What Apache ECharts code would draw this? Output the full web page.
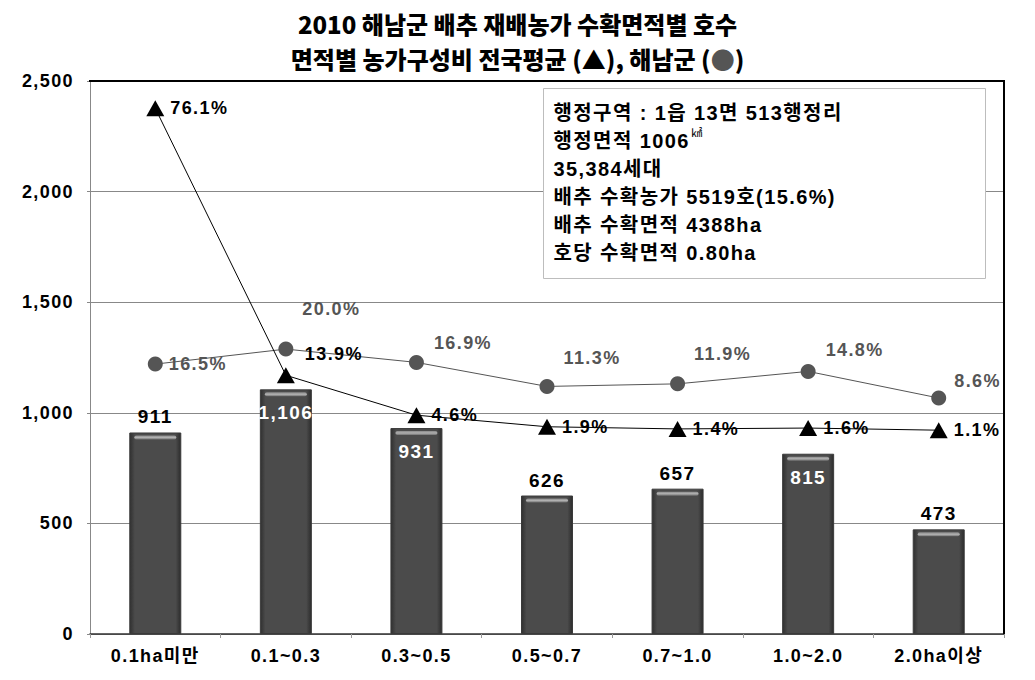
<!DOCTYPE html>
<html>
<head>
<meta charset="utf-8">
<script src="https://cdn.jsdelivr.net/npm/echarts@6/dist/echarts.min.js"></script>
<style>
html,body{margin:0;padding:0;background:#fff}
#c{width:1035px;height:680px}
#c text[style*="sans-serif"]{letter-spacing:1.4px}
</style>
</head>
<body>
<div id="c"></div>
<script>
// ---- data ----
const categories = ['0.1ha미만', '0.1~0.3', '0.3~0.5', '0.5~0.7', '0.7~1.0', '1.0~2.0', '2.0ha이상'];
const households = [911, 1106, 931, 626, 657, 815, 473];
const nationalPct = [76.1, 13.9, 4.6, 1.9, 1.4, 1.6, 1.1];
const haenamPct = [16.5, 20.0, 16.9, 11.3, 11.9, 14.8, 8.6];
const titleLines = ['2010 해남군 배추 재배농가 수확면적별 호수', '면적별 농가구성비 전국평균 (▲), 해남군 ({g|●})'];
const annotationLines = ['행정구역 : 1읍 13면 513행정리', '행정면적 1006{s|㎢}', '35,384세대', '배추 수확농가 5519호(15.6%)', '배추 수확면적 4388ha', '호당 수확면적 0.80ha'];

// ---- styling ----
const FONT = "'Liberation Sans', 'Noto Sans CJK KR', sans-serif";   // letter-spaced via CSS
const TITLE_FONT = "'Noto Sans CJK KR'";                             // not letter-spaced
const insideIdx = [1, 2, 5];
const circleOffsets = [[0, 0], [3, -40], [4, -19], [3, -28], [3, -30], [4, -21], [2, -17]];
const triOffsets = [[0, 0], [4, -21], [0, 0], [0, 0], [0, 0], [0, 0], [0, 0]];
const BAR_W = 52;

const barData = households.map((v, i) => {
  const inside = insideIdx.indexOf(i) >= 0;
  return {
    value: v,
    label: inside ? { position: 'insideTop', distance: 14, color: '#fff' } : { position: 'top', distance: 6, color: '#000' }
  };
});
const triData = nationalPct.map((v, i) => ({ value: v, label: { offset: triOffsets[i] } }));
const cirData = haenamPct.map((v, i) => ({ value: v, label: { offset: circleOffsets[i] } }));

const titleStyle = {
  fontFamily: TITLE_FONT, fontWeight: 900, fontSize: 24, lineHeight: 30, color: '#000',
  rich: { g: { color: '#555', fontFamily: TITLE_FONT, fontWeight: 900, fontSize: 24, lineHeight: 30 } }
};

const chart = echarts.init(document.getElementById('c'), null, { renderer: 'svg' });
chart.setOption({
  animation: false,
  backgroundColor: '#fff',
  title: [
    { text: titleLines[0], left: 'center', top: 8, padding: 0, textStyle: titleStyle },
    { text: titleLines[1], left: 'center', top: 43, padding: 0, textStyle: titleStyle }
  ],
  grid: { left: 90, right: 31, top: 81, bottom: 46 },
  xAxis: {
    type: 'category', data: categories,
    axisLine: { lineStyle: { color: '#333', width: 1.5 } },
    axisTick: { show: true, length: 4, lineStyle: { color: '#999' } },
    axisLabel: { fontFamily: FONT, fontWeight: 'bold', fontSize: 18, color: '#000', margin: 13, interval: 0 }
  },
  yAxis: [{
    type: 'value', min: 0, max: 2500, interval: 500,
    axisLine: { show: true, lineStyle: { color: '#888', width: 1 } },
    axisTick: { show: true, length: 3, lineStyle: { color: '#888' } },
    splitLine: { lineStyle: { color: '#888', width: 1 } },
    axisLabel: { fontFamily: FONT, fontWeight: 'bold', fontSize: 18, color: '#000', margin: 16,
      formatter: v => v.toLocaleString('en-US') }
  }, {
    type: 'value', min: -46.39, max: 82.47, show: false, splitLine: { show: false }
  }],
  series: [{
    type: 'bar', data: barData, barWidth: BAR_W,
    itemStyle: {
      color: new echarts.graphic.LinearGradient(0, 0, 1, 0, [
        { offset: 0, color: '#303030' }, { offset: 0.1, color: '#4b4b4b' },
        { offset: 0.9, color: '#4b4b4b' }, { offset: 1, color: '#2c2c2c' }
      ]),
      borderColor: '#3a3a3a', borderWidth: 1
    },
    label: { show: true, fontFamily: FONT, fontWeight: 'bold', fontSize: 19,
      formatter: p => p.value.toLocaleString('en-US') },
    z: 2
  }, {
    type: 'custom', data: households, z: 3, silent: true,
    renderItem: (params, api) => {
      const pt = api.coord([api.value(0), api.value(1)]);
      return {
        type: 'rect',
        shape: { x: pt[0] - BAR_W / 2 + 5, y: pt[1] + 3, width: BAR_W - 10, height: 4, r: 2 },
        style: { fill: new echarts.graphic.LinearGradient(0, 0, 0, 1, [
          { offset: 0, color: '#8a8a8a' }, { offset: 0.5, color: '#b0b0b0' }, { offset: 1, color: '#707070' }
        ]) }
      };
    },
    encode: { x: 0, y: 1 }
  }, {
    type: 'line', yAxisIndex: 1, data: cirData,
    symbol: 'circle', symbolSize: 15,
    itemStyle: { color: '#555' },
    lineStyle: { color: '#555', width: 1 },
    label: { show: true, position: 'right', distance: 6, color: '#555', fontFamily: FONT, fontWeight: 'bold', fontSize: 18,
      formatter: p => p.value.toFixed(1) + '%' },
    z: 4
  }, {
    type: 'line', yAxisIndex: 1, data: triData,
    symbol: 'triangle', symbolSize: [18, 16],
    itemStyle: { color: '#000' },
    lineStyle: { color: '#000', width: 1 },
    label: { show: true, position: 'right', distance: 6, color: '#000', fontFamily: FONT, fontWeight: 'bold', fontSize: 18,
      formatter: p => p.value.toFixed(1) + '%' },
    z: 5
  }],
  graphic: [
    { type: 'line', z: 100, shape: { x1: 89, y1: 81, x2: 1005, y2: 81 }, style: { stroke: '#000', lineWidth: 2 } },
    { type: 'line', z: 100, shape: { x1: 1004, y1: 80, x2: 1004, y2: 634 }, style: { stroke: '#000', lineWidth: 2 } },
    {
      type: 'group', left: 543, top: 88, z: 100,
      children: [
        { type: 'rect', z: 100, shape: { x: 0, y: 0, width: 442, height: 190 }, style: { fill: '#fff', stroke: '#bdbdbd', lineWidth: 1 } },
        { type: 'text', z: 101, x: 10, y: 10, style: {
          text: annotationLines.join('\n'), fill: '#000',
          fontFamily: FONT, fontWeight: 'bold', fontSize: 20, lineHeight: 28,
          rich: { s: { fontFamily: TITLE_FONT, fontSize: 11, fontWeight: 'normal', fill: '#000', lineHeight: 28,
            verticalAlign: 'top', padding: [0, 0, 0, 14] } }
        } }
      ]
    }
  ]
});
</script>
</body>
</html>
